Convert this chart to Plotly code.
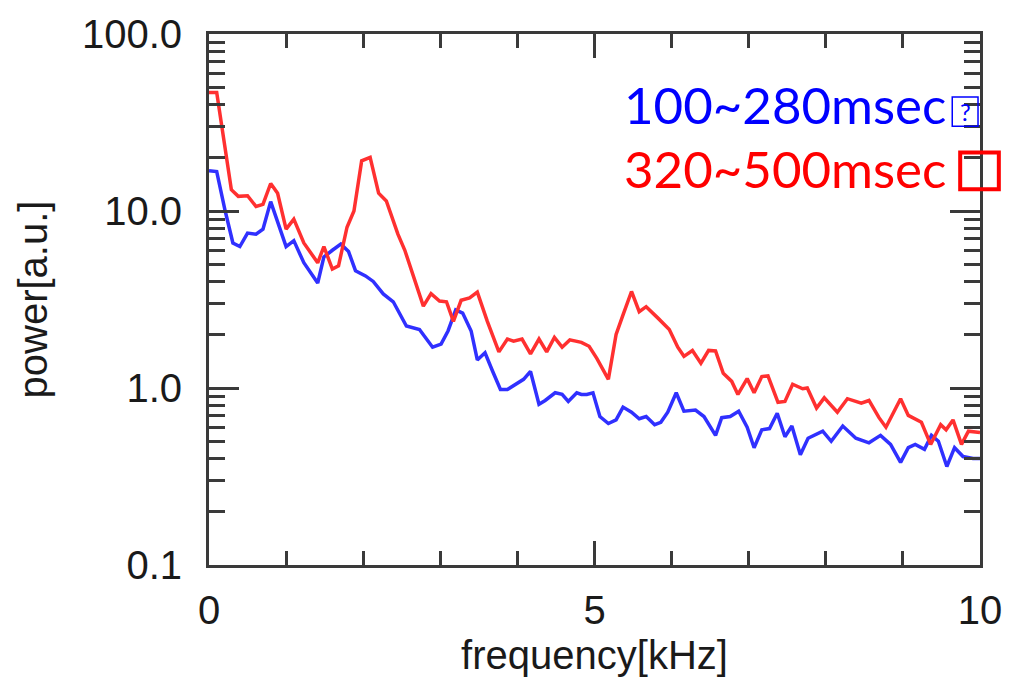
import plotly.graph_objects as go

# Power spectra (frequency in kHz, power in arbitrary units)
freq_blue = [0.0, 0.10, 0.21, 0.31, 0.40, 0.50, 0.61, 0.70, 0.80, 0.89, 1.00, 1.10, 1.23, 1.41,
             1.49, 1.60, 1.71, 1.81, 1.90, 2.03, 2.13, 2.26, 2.39, 2.56, 2.73, 2.90, 3.01, 3.10,
             3.20, 3.29, 3.40, 3.48, 3.58, 3.68, 3.78, 3.87, 4.00, 4.08, 4.17, 4.28, 4.36, 4.49,
             4.58, 4.66, 4.77, 4.83, 4.90, 4.98, 5.07, 5.18, 5.28, 5.37, 5.48, 5.58, 5.67, 5.78,
             5.86, 5.95, 6.06, 6.16, 6.31, 6.42, 6.57, 6.65, 6.76, 6.87, 6.98, 7.07, 7.17, 7.27,
             7.37, 7.47, 7.56, 7.67, 7.77, 7.96, 8.07, 8.22, 8.39, 8.56, 8.71, 8.84, 8.97, 9.07,
             9.16, 9.28, 9.37, 9.46, 9.57, 9.67, 9.78, 9.91, 10.0]
power_blue = [16.9, 16.7, 10.0, 6.6, 6.3, 7.5, 7.4, 7.9, 11.3, 8.8, 6.3, 6.8, 5.1, 3.92,
              5.5, 6.0, 6.5, 5.9, 4.6, 4.3, 4.0, 3.4, 3.07, 2.24, 2.14, 1.70, 1.77, 2.10,
              2.76, 2.65, 2.10, 1.44, 1.58, 1.24, 0.98, 0.98, 1.07, 1.12, 1.24, 0.81, 0.85, 0.94,
              0.92, 0.84, 0.94, 0.92, 0.92, 0.94, 0.69, 0.63, 0.66, 0.78, 0.73, 0.67, 0.69, 0.62,
              0.64, 0.73, 0.94, 0.74, 0.75, 0.69, 0.54, 0.68, 0.69, 0.74, 0.60, 0.46, 0.58, 0.59,
              0.72, 0.53, 0.61, 0.42, 0.52, 0.57, 0.50, 0.61, 0.52, 0.49, 0.54, 0.48, 0.38, 0.46,
              0.48, 0.45, 0.54, 0.50, 0.36, 0.46, 0.41, 0.40, 0.40]

freq_red = [0.0, 0.10, 0.29, 0.38, 0.50, 0.61, 0.70, 0.80, 0.89, 1.00, 1.10, 1.23, 1.41, 1.49,
            1.60, 1.68, 1.79, 1.88, 1.98, 2.09, 2.20, 2.30, 2.45, 2.54, 2.78, 2.88, 2.99, 3.08,
            3.17, 3.27, 3.38, 3.48, 3.61, 3.76, 3.87, 3.95, 4.06, 4.17, 4.28, 4.38, 4.48, 4.58,
            4.68, 4.83, 4.93, 5.03, 5.18, 5.28, 5.37, 5.48, 5.58, 5.67, 5.82, 5.97, 6.08, 6.16,
            6.27, 6.38, 6.48, 6.57, 6.67, 6.78, 6.86, 6.98, 7.07, 7.17, 7.25, 7.38, 7.47, 7.57,
            7.70, 7.76, 7.88, 7.98, 8.15, 8.28, 8.46, 8.56, 8.69, 8.78, 8.97, 9.07, 9.24, 9.36,
            9.49, 9.56, 9.65, 9.76, 9.85, 10.0]
power_red = [46.7, 46.7, 13.2, 12.1, 12.2, 10.6, 10.9, 14.3, 12.6, 7.9, 9.0, 6.6, 5.1, 6.3,
             4.7, 4.9, 8.1, 10.0, 19.2, 20.1, 12.6, 11.4, 7.4, 6.0, 2.9, 3.41, 3.10, 3.07,
             2.38, 3.13, 3.23, 3.48, 2.38, 1.60, 1.89, 1.84, 1.89, 1.56, 1.89, 1.60, 1.93, 1.70,
             1.87, 1.81, 1.72, 1.47, 1.12, 2.01, 2.59, 3.51, 2.70, 2.88, 2.49, 2.14, 1.70, 1.51,
             1.63, 1.38, 1.63, 1.62, 1.21, 1.09, 0.92, 1.13, 0.94, 1.16, 1.17, 0.83, 0.84, 1.05,
             0.99, 1.0, 0.77, 0.88, 0.73, 0.87, 0.82, 0.85, 0.68, 0.60, 0.87, 0.70, 0.64, 0.48,
             0.62, 0.58, 0.66, 0.48, 0.57, 0.56]

series_labels = ["100~280msec", "320~500msec"]
series_colors = ["#3030ff", "#ff3030"]

y_tick_vals = [0.1, 1, 10, 100]
y_tick_text = ["0.1", "1.0", "10.0", "100.0"]
x_tick_vals = [0, 5, 10]
x_tick_text = ["0", "5", "10"]

AXIS = "#3a3a3a"
TXT = "#1a1a1a"
FONT = "Liberation Sans, Arial, sans-serif"

y_minor = [m * 10 ** e for e in (-1, 0, 1) for m in range(2, 10)]
x_minor = [v for v in range(1, 10) if v != 5]

fig = go.Figure()
fig.add_trace(go.Scatter(x=freq_blue, y=power_blue, mode="lines", name=series_labels[0],
                         line=dict(color=series_colors[0], width=3.5)))
fig.add_trace(go.Scatter(x=freq_red, y=power_red, mode="lines", name=series_labels[1],
                         line=dict(color=series_colors[1], width=3.5)))

fig.update_layout(
    width=1014, height=682,
    margin=dict(l=209, r=27, t=28, b=107),
    paper_bgcolor="white", plot_bgcolor="white",
    showlegend=False,
    font=dict(family=FONT, color=TXT),
)

fig.update_xaxes(
    range=[0, 10], showgrid=False, zeroline=False,
    showline=True, linecolor=AXIS, linewidth=3, mirror="allticks",
    tickmode="array", tickvals=x_tick_vals, ticktext=x_tick_text,
    ticks="inside", ticklen=24, tickwidth=2.5, tickcolor=AXIS,
    tickfont=dict(size=40, color=TXT, family=FONT), ticklabelstandoff=8,
    minor=dict(tickmode="array", tickvals=x_minor, ticks="inside", ticklen=14,
               tickwidth=2.5, tickcolor=AXIS, showgrid=False),
    title=dict(text="frequency[kHz]", font=dict(size=40, color=TXT, family=FONT), standoff=10),
)

fig.update_yaxes(
    type="log", range=[-1, 2], showgrid=False, zeroline=False,
    showline=True, linecolor=AXIS, linewidth=3, mirror="allticks",
    tickmode="array", tickvals=y_tick_vals, ticktext=y_tick_text,
    ticks="inside", ticklen=30, tickwidth=2.5, tickcolor=AXIS,
    tickfont=dict(size=40, color=TXT, family=FONT), ticklabelstandoff=16,
    minor=dict(tickmode="array", tickvals=y_minor, ticks="inside", ticklen=16,
               tickwidth=2.5, tickcolor=AXIS, showgrid=False),
    title=dict(text="power[a.u.]", font=dict(size=40, color=TXT, family=FONT), standoff=22),
)

# Period labels in the upper right
LEG_FONT = "Lato, Carlito, Noto Sans, sans-serif"
fig.add_annotation(xref="paper", yref="paper", x=0.536, y=(575 - 101) / 547,
                   xanchor="left", yanchor="middle", showarrow=False,
                   text=series_labels[0], font=dict(size=51, color="#0000ff", family=LEG_FONT))
fig.add_annotation(xref="paper", yref="paper", x=0.536, y=(575 - 167) / 547,
                   xanchor="left", yanchor="middle", showarrow=False,
                   text=series_labels[1], font=dict(size=51, color="#ff0000", family=LEG_FONT))

# Glyph boxes after each label
fig.add_shape(type="rect", xref="paper", yref="paper", layer="above",
              x0=(959 - 209) / 778, x1=(985 - 209) / 778,
              y0=(575 - 123) / 547, y1=(575 - 93) / 547,
              line=dict(color="#0000ff", width=1.5))
fig.add_annotation(xref="paper", yref="paper", x=(972 - 209) / 778, y=(575 - 108) / 547,
                   xanchor="center", yanchor="middle", showarrow=False,
                   text="?", font=dict(size=24, color="#0000ff", family=LEG_FONT))
fig.add_shape(type="rect", xref="paper", yref="paper", layer="above",
              x0=(967 - 209) / 778, x1=(1006 - 209) / 778,
              y0=(575 - 188) / 547, y1=(575 - 150) / 547,
              line=dict(color="#ff0000", width=4))

fig.write_html("out.html")
